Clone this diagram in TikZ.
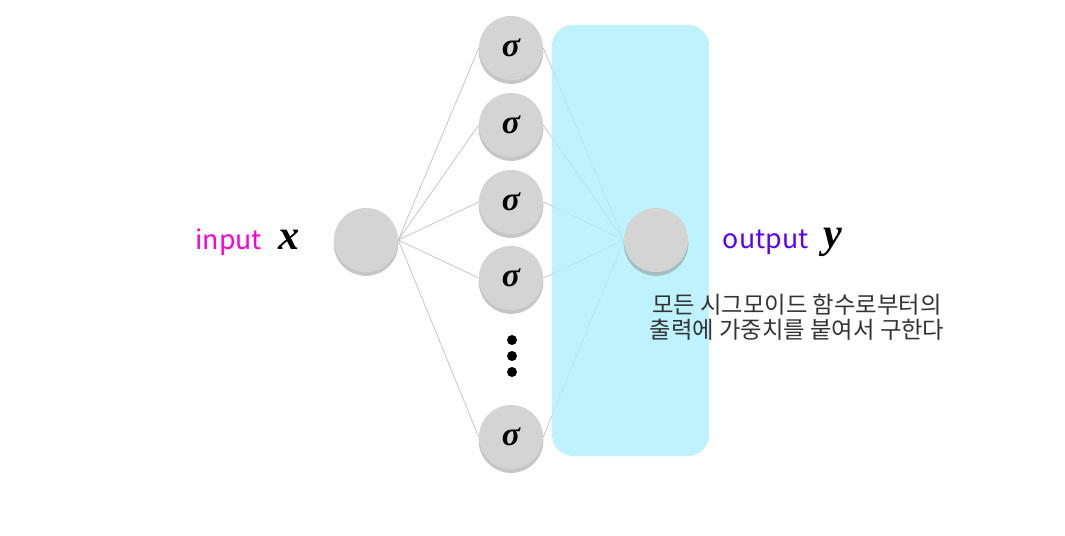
\documentclass[tikz,border=0pt]{standalone}
\usepackage{amsmath}
\usepackage{fontspec}
\newfontfamily\krfont{Noto Sans CJK KR}
\newfontfamily\varfont{Liberation Serif}
\usetikzlibrary{shadows}
\definecolor{NodeGray}{HTML}{D4D4D4}
\definecolor{EdgeGray}{HTML}{C0C0C0}
\definecolor{LayerCyan}{HTML}{AEF0FC}
\definecolor{InMagenta}{HTML}{F700D0}
\definecolor{OutViolet}{HTML}{5A00F5}
\definecolor{NoteText}{HTML}{333333}

\begin{document}
\begin{tikzpicture}[
    x=0.025cm, y=-0.025cm,
    unit/.style={
      circle,
      fill=NodeGray,
      minimum size=1.6cm,
      inner sep=0pt,
      drop shadow={opacity=0.45, shadow xshift=0pt, shadow yshift=-2.5pt,
        shadow scale=1.01, fill=gray},
      font=\varfont\bfseries\itshape\fontsize{24}{26}\selectfont
    },
    edge/.style={
      draw=EdgeGray,
      line width=0.5pt
    },
    label/.style={
      font=\krfont\fontsize{19}{22}\selectfont
    },
    var/.style={
      font=\varfont\bfseries\itshape\fontsize{30}{32}\selectfont
    }
  ]
  \useasboundingbox (0,0) rectangle (1065,535);

  % Input layer
  \node[unit] (in) at (366,240) {};
  \node[label,text=InMagenta,anchor=east] (inlbl) at (267,242) {input};
  \node[var] (invar) at (289,240) {x};

  % Hidden sigmoid units
  \node[unit] (s1) at (511,48) {σ};
  \node[unit] (s2) at (511,125) {σ};
  \node[unit] (s3) at (511,202) {σ};
  \node[unit] (s4) at (511,278) {σ};
  \node[unit] (sn) at (511,437) {σ};

  % Vertical ellipsis
  \fill (512,340) circle[radius=5] (512,356) circle[radius=5]
    (512,372) circle[radius=5];

  % Weights
  \draw[edge] (in.east) -- (s1.west);
  \draw[edge] (in.east) -- (s2.west);
  \draw[edge] (in.east) -- (s3.west);
  \draw[edge] (in.east) -- (s4.west);
  \draw[edge] (in.east) -- (sn.west);
  \coordinate (outw) at (624,240);
  \draw[edge] (s1.east) -- (outw);
  \draw[edge] (s2.east) -- (outw);
  \draw[edge] (s3.east) -- (outw);
  \draw[edge] (s4.east) -- (outw);
  \draw[edge] (sn.east) -- (outw);

  % Output layer highlight
  \node[fill=LayerCyan, fill opacity=0.8, rounded corners=15pt,
    minimum width=3.925cm, minimum height=10.775cm, inner sep=0pt]
    (layer) at (630.5,240.5) {};

  % Output unit
  \node[unit] (out) at (656,240) {};
  \node[label,text=OutViolet,anchor=west] (outlbl) at (718,242) {output};
  \node[var] (outvar) at (833,242) {y};

  % Note
  \node[label,text=NoteText,align=center,
    font=\krfont\fontsize{16.6}{17.8}\selectfont] (note) at (797,317)
    {모든 시그모이드 함수로부터의\\출력에 가중치를 붙여서 구한다};
\end{tikzpicture}
\end{document}
